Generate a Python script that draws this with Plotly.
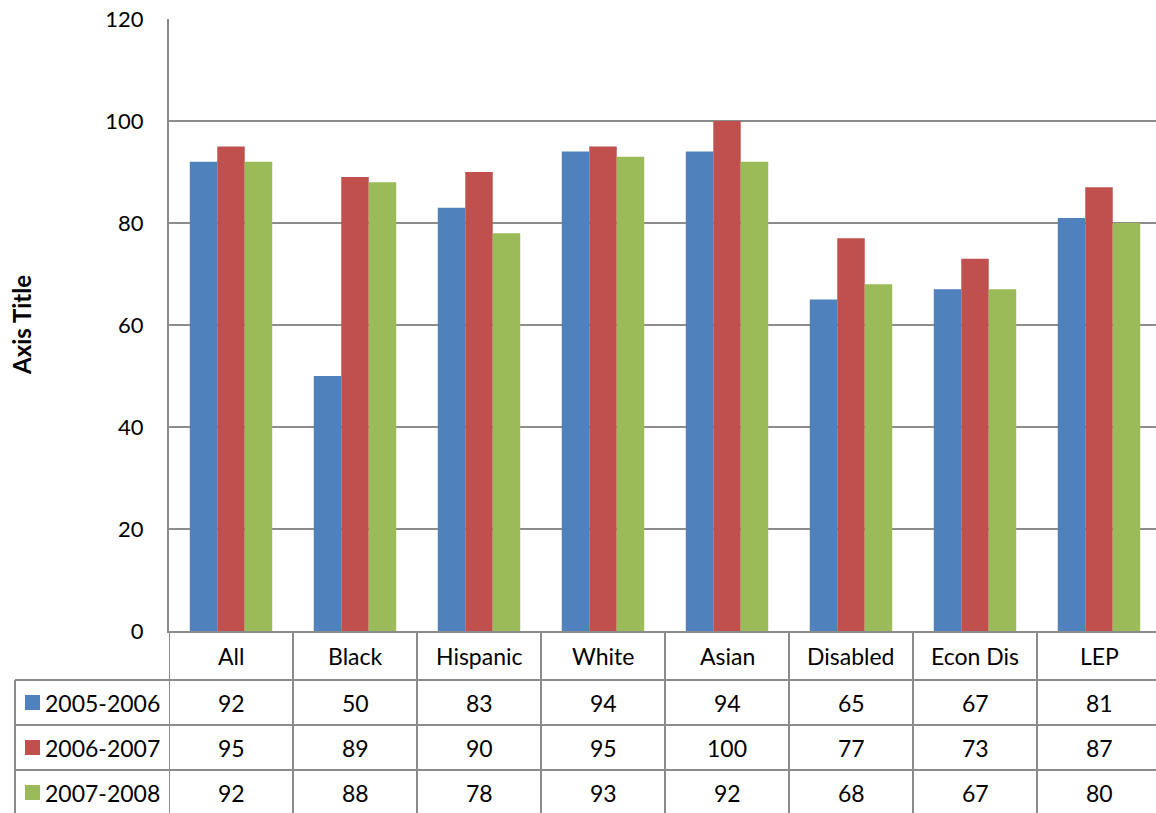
import plotly.graph_objects as go

categories = ["All", "Black", "Hispanic", "White", "Asian", "Disabled", "Econ Dis", "LEP"]
series_names = ["2005-2006", "2006-2007", "2007-2008"]
values_2005_2006 = [92, 50, 83, 94, 94, 65, 67, 81]
values_2006_2007 = [95, 89, 90, 95, 100, 77, 73, 87]
values_2007_2008 = [92, 88, 78, 93, 92, 68, 67, 80]
series_values = [values_2005_2006, values_2006_2007, values_2007_2008]
colors = ["#4F81BD", "#C0504D", "#9BBB59"]
y_ticks = [0, 20, 40, 60, 80, 100, 120]

W, H = 1156, 813
FONT = "Lato"
LINE = "#8C8C8C"
TABLE_SIZE = 23
TICK_SIZE = 22


def py(p):
    """Convert a pixel row (from top) to paper coordinates."""
    return 1 - p / H


def px(p):
    return p / W


plot_left, plot_top, plot_bottom = 169, 19, 631
slot = 124  # width of one category slot in pixels
row_lines = [680, 725, 770]
row_h = 45

fig = go.Figure()
idx = list(range(len(categories)))
for name, vals, col in zip(series_names, series_values, colors):
    fig.add_trace(go.Bar(
        x=idx, y=vals, name=name, marker=dict(color=col, line=dict(width=0)),
        showlegend=False,
    ))

span = (W - plot_left) / slot
fig.update_layout(
    width=W, height=H,
    margin=dict(l=0, r=0, t=0, b=0, pad=0),
    paper_bgcolor="white", plot_bgcolor="white",
    barmode="group", bargap=0.335, bargroupgap=0,
    font=dict(family=FONT, size=TABLE_SIZE, color="black"),
    xaxis=dict(
        domain=[px(plot_left), 1], range=[-0.5, -0.5 + span],
        showticklabels=False, showgrid=False, zeroline=False,
        showline=True, linecolor=LINE, linewidth=2, ticks="",
        automargin=False,
    ),
    yaxis=dict(
        domain=[py(plot_bottom), py(plot_top)], range=[0, 120],
        tickvals=y_ticks, ticktext=[str(v) for v in y_ticks],
        showgrid=True, gridcolor=LINE, gridwidth=1.5,
        zeroline=False, showline=True, linecolor=LINE, linewidth=2,
        ticks="", ticklabelstandoff=19, automargin=False,
        tickfont=dict(family=FONT, size=TICK_SIZE),
    ),
)

shapes = []
# vertical separators of the data table
for i in range(len(categories)):
    shapes.append(dict(type="line", xref="x", yref="paper",
                       x0=i - 0.5, x1=i - 0.5, y0=py(plot_bottom), y1=0,
                       line=dict(color=LINE, width=2)))
# left edge of the series label column
shapes.append(dict(type="line", xref="paper", yref="paper",
                   x0=px(15), x1=px(15), y0=py(row_lines[0]), y1=0,
                   line=dict(color=LINE, width=2)))
# horizontal row separators
for r in row_lines:
    shapes.append(dict(type="line", xref="paper", yref="paper",
                       x0=px(15), x1=1, y0=py(r), y1=py(r),
                       line=dict(color=LINE, width=2)))
# legend keys inside the table
for k, col in enumerate(colors):
    cy = row_lines[0] + row_h * k + row_h / 2
    shapes.append(dict(type="rect", xref="paper", yref="paper",
                       x0=px(25), x1=px(40), y0=py(cy - 7.5), y1=py(cy + 7.5),
                       fillcolor=col, line=dict(width=0)))

annotations = []
# category header row
for i, c in enumerate(categories):
    annotations.append(dict(x=i, y=py((plot_bottom + row_lines[0]) / 2), xref="x", yref="paper",
                            xanchor="center", yanchor="middle",
                            text=c, showarrow=False, font=dict(family=FONT, size=TABLE_SIZE)))
# series rows
for k, (name, vals) in enumerate(zip(series_names, series_values)):
    cy = row_lines[0] + row_h * k + row_h / 2
    annotations.append(dict(x=px(43), y=py(cy), xref="paper", yref="paper",
                            xanchor="left", yanchor="middle",
                            text=name, showarrow=False, font=dict(family=FONT, size=TABLE_SIZE)))
    for i, v in enumerate(vals):
        annotations.append(dict(x=i, y=py(cy), xref="x", yref="paper",
                                xanchor="center", yanchor="middle",
                                text=str(v), showarrow=False, font=dict(family=FONT, size=TABLE_SIZE)))
# y axis title
annotations.append(dict(x=px(21), y=py((plot_top + plot_bottom) / 2), xref="paper", yref="paper",
                        xanchor="center", yanchor="middle",
                        text="<b>Axis Title</b>", textangle=-90, showarrow=False,
                        font=dict(family=FONT, size=24)))

fig.update_layout(shapes=shapes, annotations=annotations)
fig.write_html("out.html")
